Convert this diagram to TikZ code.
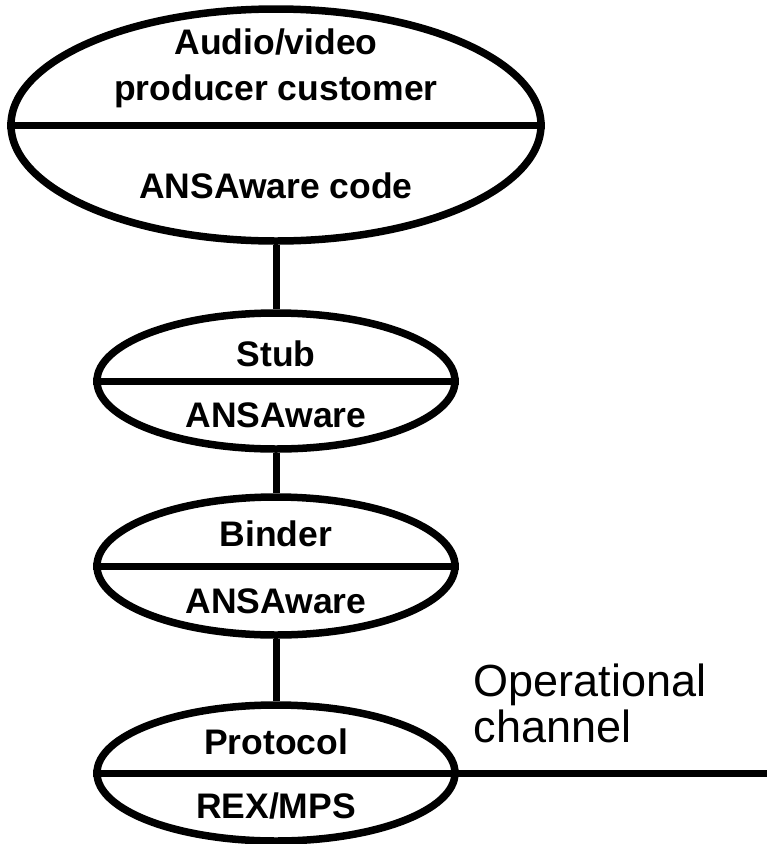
\documentclass[tikz,border=0pt]{standalone}
\usepackage{fontspec}
\setmainfont{Liberation Sans}
\usetikzlibrary{shapes.geometric}
\begin{document}
\begin{tikzpicture}[x=1pt,y=-1pt,
    layer/.style={draw,ellipse,line width=7.5pt,inner sep=0pt},
    lbl/.style={anchor=base,align=center,
      font=\fontsize{35.5}{46}\bfseries\selectfont},
    note/.style={anchor=base west,align=left,
      font=\fontsize{45}{46}\selectfont}]
  \useasboundingbox (0,0) rectangle (767,844);
  % the four layers
  \node[layer,minimum width=530pt,minimum height=232pt] (app) at (276,125) {};
  \node[layer,minimum width=358pt,minimum height=136pt] (stub) at (276,381) {};
  \node[layer,minimum width=358pt,minimum height=138pt] (binder) at (276,566) {};
  \node[layer,minimum width=358pt,minimum height=136pt] (proto) at (276,773) {};
  \coordinate (chanend) at (767,773);
  % labels
  \node[lbl] (apptop) at (276,100) {Audio/video\\producer customer};
  \node[lbl] (appbot) at (276,198) {ANSAware code};
  \node[lbl] (stubtop) at (276,366) {Stub};
  \node[lbl] (stubbot) at (276,427) {ANSAware};
  \node[lbl] (bindtop) at (276,546) {Binder};
  \node[lbl] (bindbot) at (276,613) {ANSAware};
  \node[lbl] (prottop) at (276,754) {Protocol};
  \node[lbl] (protbot) at (276,818) {REX/MPS};
  \node[note] (chanlbl) at (470,742) {Operational\\channel};
  \begin{scope}[line width=7pt]
    \draw (app.west) -- (app.east);
    \draw (stub.west) -- (stub.east);
    \draw (binder.west) -- (binder.east);
    \draw (proto.west) -- (proto.east);
    \draw (app) -- (stub);
    \draw (stub) -- (binder);
    \draw (binder) -- (proto);
    \draw (proto.east) -- (chanend);
  \end{scope}
\end{tikzpicture}
\end{document}
